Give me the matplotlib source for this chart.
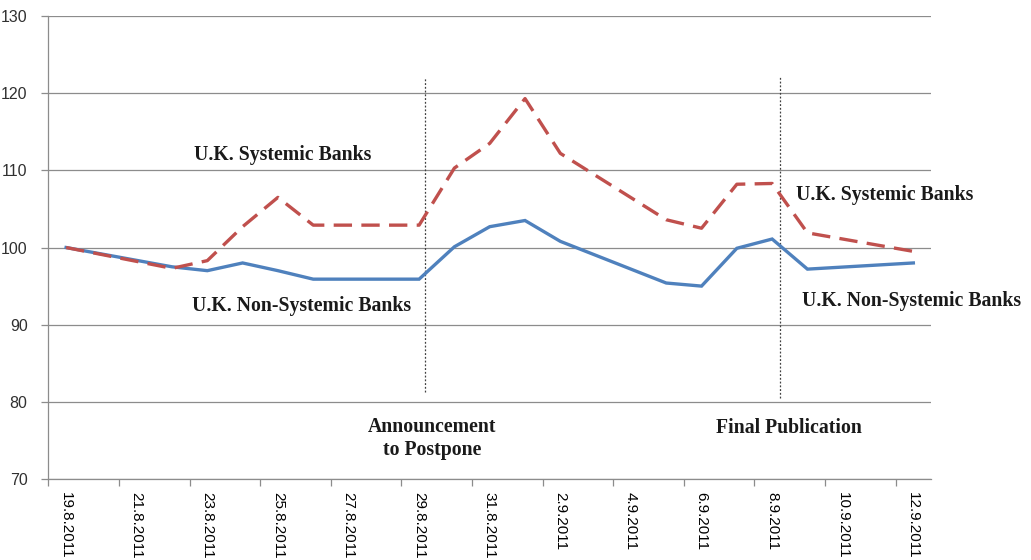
import numpy as np
import pandas as pd
import matplotlib
matplotlib.use("Agg")
import matplotlib.pyplot as plt

# ----------------------------
# Data
# ----------------------------
trade_dates = ["19.8.2011", "22.8.2011", "23.8.2011", "24.8.2011", "25.8.2011",
               "26.8.2011", "29.8.2011", "30.8.2011", "31.8.2011", "1.9.2011",
               "2.9.2011", "5.9.2011", "6.9.2011", "7.9.2011", "8.9.2011",
               "9.9.2011", "12.9.2011"]
non_systemic = [100.0, 97.5, 97.0, 98.0, 97.0, 95.9, 95.9, 100.1, 102.7, 103.5,
                100.8, 95.4, 95.0, 99.9, 101.1, 97.2, 98.0]
systemic = [100.0, 97.3, 98.3, 102.7, 106.5, 102.9, 102.9, 110.3, 113.5, 119.3,
            112.2, 103.6, 102.5, 108.2, 108.3, 101.9, 99.5]

tick_labels = ["19.8.2011", "21.8.2011", "23.8.2011", "25.8.2011", "27.8.2011",
               "29.8.2011", "31.8.2011", "2.9.2011", "4.9.2011", "6.9.2011",
               "8.9.2011", "10.9.2011", "12.9.2011"]

# event markers (slightly after the date, as drawn in the original)
event_dates = ["29.8.2011", "8.9.2011"]
event_offsets = [0.17, 0.22]

# ----------------------------
# Convert dates to day offsets from the first date
# ----------------------------
start = pd.to_datetime(trade_dates[0], format="%d.%m.%Y")
def day_num(s):
    return (pd.to_datetime(s, format="%d.%m.%Y") - start).days

x = np.array([day_num(d) for d in trade_dates])
tick_pos = np.array([day_num(d) for d in tick_labels])

BLUE = "#4F81BD"
RED = "#C0504D"
GRID = "#8C8C8C"

fig = plt.figure(figsize=(10.31, 5.6), dpi=100)
ax = fig.add_axes([0.047, 0.1446, 0.856, 0.8268])

ax.plot(x, non_systemic, color=BLUE, lw=2.4, solid_joinstyle="miter", zorder=3)
ax.plot(x, systemic, color=RED, lw=2.4, dashes=(5.5, 2.8), zorder=3)

# event lines
for d, off, bot in zip(event_dates, event_offsets, [81.3, 80.5]):
    ax.plot([day_num(d) + off] * 2, [bot, 122.1], color="#404040",
            lw=0.9, ls=(0, (1.5, 1.5)), zorder=2)

# axes
ax.set_xlim(-0.5, tick_pos[-1] + 0.5)
ax.set_ylim(70, 130)
ax.set_yticks(np.arange(70, 131, 10))
ax.yaxis.grid(True, color=GRID, lw=0.9)
ax.set_axisbelow(True)
for s in ["top", "right"]:
    ax.spines[s].set_visible(False)
for s in ["left", "bottom"]:
    ax.spines[s].set_color(GRID)
    ax.spines[s].set_linewidth(0.9)

ax.set_xticks(tick_pos - 0.5)
ax.set_xticklabels([])
ax.set_xticks(tick_pos, minor=True)
ax.set_xticklabels(tick_labels, minor=True, rotation=270,
                   fontsize=11, fontfamily="Liberation Sans", va="top", ha="center")
ax.tick_params(axis="x", which="major", length=5, color=GRID, width=0.9)
ax.tick_params(axis="x", which="minor", length=0, pad=9)
ax.tick_params(axis="y", length=5, color=GRID, width=0.9, pad=10,
               labelsize=11.5, labelcolor="#303030")
for lab in ax.get_yticklabels():
    lab.set_fontfamily("Liberation Sans")

# annotations
tfont = dict(fontfamily="Liberation Serif", fontweight="bold", fontsize=14.2,
             color="#1a1a1a", ha="center", va="center")
ax.text(6.14, 112.0, "U.K. Systemic Banks", **tfont)
ax.text(6.66, 92.4, "U.K. Non-Systemic Banks", **tfont)
ax.text(23.2, 106.8, "U.K. Systemic Banks", **tfont)
ax.text(23.95, 93.1, "U.K. Non-Systemic Banks", **tfont)
ax.text(10.38, 75.3, "Announcement\nto Postpone", linespacing=1.2, **tfont)
ax.text(20.48, 76.6, "Final Publication", **tfont)

fig.savefig("out.png", dpi=100)
